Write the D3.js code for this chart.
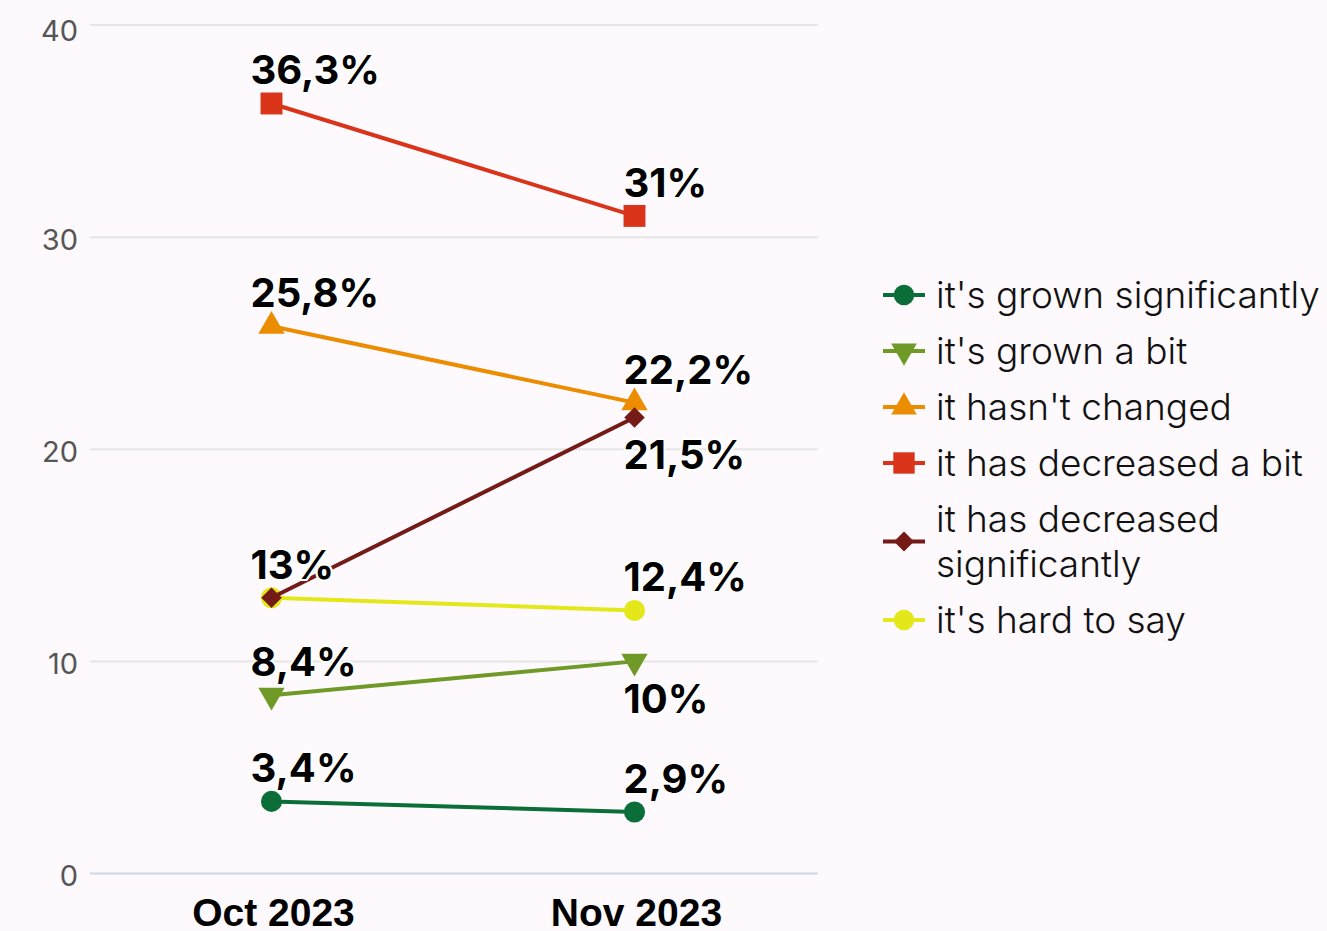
<!DOCTYPE html>
<html>
<head>
<meta charset="utf-8">
<script src="https://cdn.jsdelivr.net/npm/d3@7"></script>
<style>
  html, body { margin: 0; padding: 0; background: #fdf9fd; }
  svg { display: block; }
</style>
</head>
<body>
<div id="chart"></div>
<script>
var width = 1327, height = 931;

// data
var months = ["Oct 2023", "Nov 2023"];
var seriesNames = ["it's grown significantly", "it's grown a bit", "it hasn't changed",
  "it has decreased a bit", "it has decreased significantly", "it's hard to say"];
var grownSignificantly = [3.4, 2.9];
var grownBit = [8.4, 10];
var notChanged = [25.8, 22.2];
var decreasedBit = [36.3, 31];
var decreasedSignificantly = [13, 21.5];
var hardToSay = [13, 12.4];
var yTicks = [0, 10, 20, 30, 40];

var colors = ["#0b6e38", "#6f9a28", "#ec8c00", "#d9341a", "#741a17", "#e4e81a"];
var symbols = [d3.symbolCircle, d3.symbolTriangle, d3.symbolTriangle, d3.symbolSquare, d3.symbolSquare, d3.symbolCircle];
var rotate = [0, 180, 0, 0, 45, 0];
var symSize = [350, 300, 300, 480, 210, 350];
// label goes below the point?
var below = [[false, false], [false, true], [false, false], [false, false], [false, true], [false, false]];
var labelDx = [-21, -11];
var drawOrder = [0, 1, 2, 3, 5, 4];

var allValues = [grownSignificantly, grownBit, notChanged, decreasedBit, decreasedSignificantly, hardToSay];
var series = seriesNames.map(function(n, i) {
  return { name: n, values: allValues[i], color: colors[i], i: i };
});

var svg = d3.select("#chart").append("svg")
  .attr("width", width)
  .attr("height", height);

svg.append("rect").attr("width", width).attr("height", height).attr("fill", "#fdf9fd");

var x = d3.scalePoint().domain(months).range([90, 816]).padding(0.5);
var y = d3.scaleLinear().domain([0, 40]).range([873.5, 25]);

// grid
svg.append("g").selectAll("line")
  .data(yTicks)
  .enter().append("line")
  .attr("x1", 90).attr("x2", 818)
  .attr("y1", d => y(d)).attr("y2", d => y(d))
  .attr("stroke", d => d === 0 ? "#ccd6eb" : "#e6e6e6")
  .attr("stroke-width", 2);

svg.append("g").selectAll("text")
  .data(yTicks)
  .enter().append("text")
  .attr("x", 78)
  .attr("y", d => Math.max(y(d) + 2, 31))
  .attr("dy", "0.36em")
  .attr("text-anchor", "end")
  .attr("fill", "#555")
  .style("font-family", "Inter, sans-serif")
  .style("font-weight", 400)
  .style("font-size", "29px")
  .text(d => d);

// x labels
svg.append("g").selectAll("text")
  .data(months)
  .enter().append("text")
  .attr("x", d => x(d) + 2)
  .attr("y", 926)
  .attr("text-anchor", "middle")
  .attr("fill", "#000")
  .style("font-family", "'Liberation Sans Narrow', 'Arial Narrow', sans-serif")
  .style("font-weight", "bold")
  .style("font-size", "39px")
  .text(d => d);

var line = d3.line()
  .x((d, j) => x(months[j]))
  .y(d => y(d));

var g = svg.append("g");
drawOrder.forEach(function(k) {
  var s = series[k];
  g.append("path")
    .attr("d", line(s.values))
    .attr("fill", "none")
    .attr("stroke", s.color)
    .attr("stroke-width", 4);
  g.selectAll(null)
    .data(s.values)
    .enter().append("path")
    .attr("d", d3.symbol().type(symbols[s.i]).size(symSize[s.i]))
    .attr("transform", (d, j) => "translate(" + x(months[j]) + "," + y(d) + ") rotate(" + rotate[s.i] + ")")
    .attr("fill", s.color);
});

// data labels
function fmt(v) { return String(v).replace(".", ",") + "%"; }
var lg = svg.append("g");
series.forEach(function(s) {
  lg.selectAll(null)
    .data(s.values)
    .enter().append("text")
    .attr("x", (d, j) => x(months[j]) + labelDx[j])
    .attr("y", (d, j) => y(d) + (below[s.i][j] ? 52 : -19))
    .attr("fill", "#000")
    .attr("stroke", "#fff")
    .attr("stroke-width", 4)
    .attr("stroke-linejoin", "round")
    .style("paint-order", "stroke")
    .style("font-family", "Inter, sans-serif")
    .style("font-weight", "bold")
    .style("font-size", "40px")
    .text(d => fmt(d));
});

// legend
var legend = svg.append("g");
var ly = 295, maxW = 395;
series.forEach(function(s) {
  var item = legend.append("g");
  var t = item.append("text")
    .attr("x", 936)
    .attr("fill", "#111")
    .style("font-family", "Inter, sans-serif")
    .style("font-weight", 300)
    .style("font-size", "37px");
  var words = s.name.split(" "), lines = [], cur = "";
  var tmp = t.append("tspan");
  words.forEach(function(w) {
    var test = cur ? cur + " " + w : w;
    tmp.text(test);
    if (tmp.node().getComputedTextLength() > maxW && cur) {
      lines.push(cur); cur = w;
    } else cur = test;
  });
  lines.push(cur);
  tmp.remove();
  var lh = 45;
  lines.forEach(function(l, k) {
    t.append("tspan").attr("x", 936).attr("y", ly + k * lh).attr("dy", "0.35em").text(l);
  });
  var cy = ly + (lines.length - 1) * lh / 2;
  item.append("line")
    .attr("x1", 883).attr("x2", 925)
    .attr("y1", cy).attr("y2", cy)
    .attr("stroke", s.color).attr("stroke-width", 4);
  item.append("path")
    .attr("d", d3.symbol().type(symbols[s.i]).size(symSize[s.i] * 0.95))
    .attr("transform", "translate(904," + cy + ") rotate(" + rotate[s.i] + ")")
    .attr("fill", s.color);
  ly += (lines.length - 1) * lh + 56;
});
</script>
</body>
</html>
